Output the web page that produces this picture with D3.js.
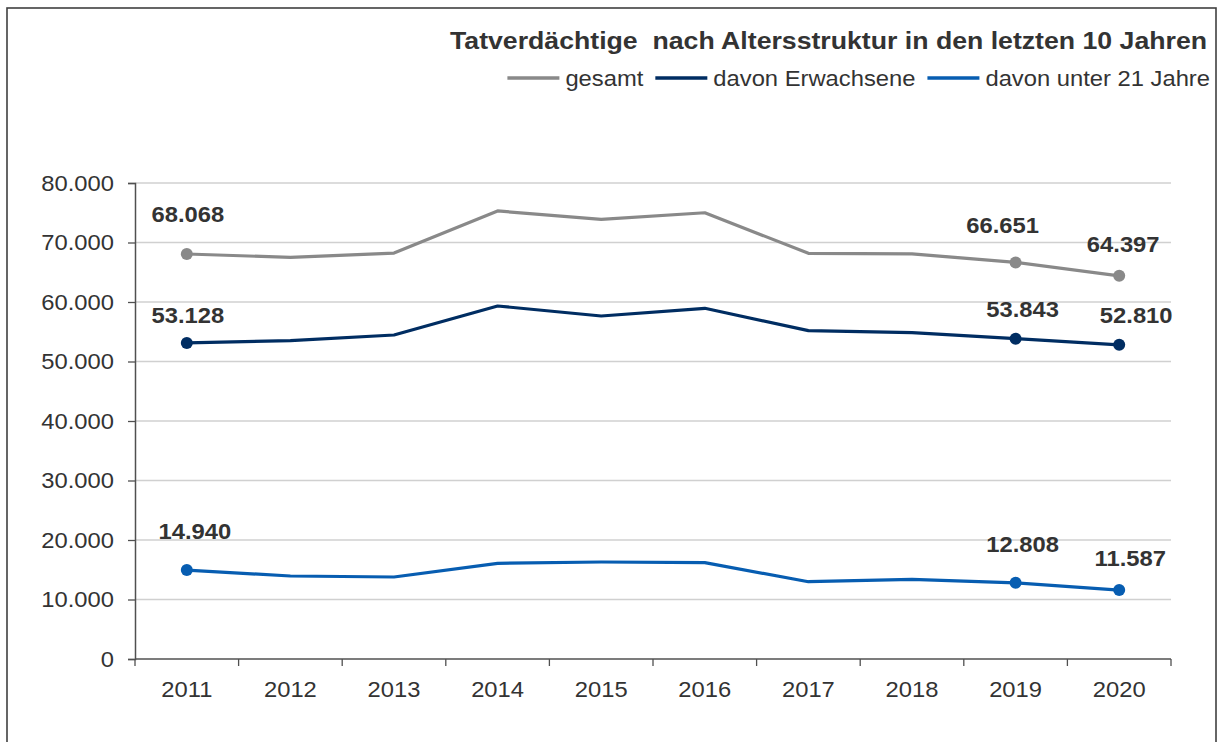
<!DOCTYPE html>
<html>
<head>
<meta charset="utf-8">
<script src="https://cdn.jsdelivr.net/npm/d3@7"></script>
<style>
  body { margin: 0; background: #fff; }
  svg text { font-family: "Liberation Sans", Arial, sans-serif; fill: #333; }
</style>
</head>
<body>
<div id="chart"></div>
<script>
// data
const years = ["2011", "2012", "2013", "2014", "2015", "2016", "2017", "2018", "2019", "2020"];
const gesamt = [68068, 67500, 68230, 75300, 73900, 75000, 68180, 68100, 66651, 64397];
const erwachsene = [53128, 53500, 54450, 59330, 57650, 58940, 55180, 54840, 53843, 52810];
const unter21 = [14940, 13950, 13780, 16080, 16300, 16190, 12990, 13390, 12808, 11587];
const yTicks = [0, 10000, 20000, 30000, 40000, 50000, 60000, 70000, 80000];
const labelledYears = ["2011", "2019", "2020"];
const seriesNames = ["gesamt", "davon Erwachsene", "davon unter 21 Jahre"];

const colors = ["#898989", "#002d62", "#075db1"];

// manual label offsets (dx, dy) from the point, like the excel chart
const labelOffsets = [
    {"2011": [1, -40], "2019": [-13, -37], "2020": [4, -32]},
    {"2011": [1, -28], "2019": [7, -29], "2020": [17, -29]},
    {"2011": [8, -39], "2019": [7, -38], "2020": [11, -32]}
];

const W = 1217, H = 742;
const margin = {left: 135, right: 46, top: 183, bottom: 83};

// the reference text is a bit wider than Liberation Sans
const STRETCH = 1.08;
function stretch(sel, f) {
    sel.each(function () {
        const w = this.getComputedTextLength();
        d3.select(this).attr("textLength", w * f).attr("lengthAdjust", "spacingAndGlyphs");
    });
}

const svg = d3.select("#chart").append("svg")
    .attr("width", W).attr("height", H);

// frame
svg.append("rect")
    .attr("x", 7).attr("y", 8)
    .attr("width", 1209).attr("height", 760)
    .attr("fill", "none")
    .attr("stroke", "#404040")
    .attr("stroke-width", 1.6);

const x = d3.scaleBand().domain(years)
    .range([margin.left, W - margin.right]);
const y = d3.scaleLinear().domain([0, 80000])
    .range([H - margin.bottom, margin.top]);

// gridlines
svg.append("g").selectAll("line")
    .data(yTicks.filter(d => d > 0))
    .enter().append("line")
    .attr("x1", margin.left).attr("x2", W - margin.right)
    .attr("y1", d => y(d)).attr("y2", d => y(d))
    .attr("stroke", "#d0d0d0").attr("stroke-width", 1.3);

const fmt = d3.formatLocale({decimal: ",", thousands: ".", grouping: [3], currency: ["", "€"]}).format(",d");

// y axis
const yAxis = svg.append("g")
    .attr("transform", `translate(${margin.left},0)`)
    .call(d3.axisLeft(y).tickValues(yTicks).tickFormat(fmt).tickSize(7).tickPadding(14));
yAxis.selectAll("text").attr("font-size", 22).attr("fill", "#333")
    .attr("font-family", "Liberation Sans, Arial, sans-serif");
stretch(yAxis.selectAll("text"), STRETCH);

// x axis with ticks between categories
const xAxisG = svg.append("g")
    .attr("transform", `translate(0,${y(0)})`);
xAxisG.append("line")
    .attr("x1", margin.left).attr("x2", W - margin.right)
    .attr("stroke", "#505050").attr("stroke-width", 1.5);
const bounds = years.map(d => x(d)).concat([x(years[years.length - 1]) + x.bandwidth()]);
xAxisG.selectAll(".xtick").data(bounds).enter().append("line")
    .attr("x1", d => d).attr("x2", d => d)
    .attr("y1", 0).attr("y2", 7)
    .attr("stroke", "#505050").attr("stroke-width", 1.3);
const xLabels = xAxisG.selectAll(".xlab").data(years).enter().append("text")
    .attr("x", d => x(d) + x.bandwidth() / 2)
    .attr("y", 38)
    .attr("text-anchor", "middle")
    .attr("font-size", 22)
    .text(d => d);
stretch(xLabels, STRETCH);

yAxis.select(".domain").attr("stroke", "#505050").attr("stroke-width", 1.5);
yAxis.selectAll(".tick line").attr("stroke", "#505050").attr("stroke-width", 1.3);

// lines
const allSeries = [gesamt, erwachsene, unter21];
const line = d3.line()
    .x((d, i) => x(years[i]) + x.bandwidth() / 2)
    .y(d => y(d));

allSeries.forEach((values, s) => {
    svg.append("path")
        .datum(values)
        .attr("fill", "none")
        .attr("stroke", colors[s])
        .attr("stroke-width", 3.2)
        .attr("stroke-linejoin", "round")
        .attr("d", line);

    const pts = years.map((yr, i) => ({yr, v: values[i]}))
        .filter(d => labelledYears.includes(d.yr));

    svg.append("g").selectAll("circle")
        .data(pts).enter().append("circle")
        .attr("cx", d => x(d.yr) + x.bandwidth() / 2)
        .attr("cy", d => y(d.v))
        .attr("r", 6)
        .attr("fill", colors[s]);

    const labels = svg.append("g").selectAll("text")
        .data(pts).enter().append("text")
        .attr("x", d => x(d.yr) + x.bandwidth() / 2 + labelOffsets[s][d.yr][0])
        .attr("y", d => y(d.v) + labelOffsets[s][d.yr][1])
        .attr("dy", "0.35em")
        .attr("text-anchor", "middle")
        .attr("font-size", 22)
        .attr("font-weight", "bold")
        .text(d => fmt(d.v));
    stretch(labels, STRETCH);
});

// title
svg.append("text")
    .attr("x", 1207).attr("y", 49)
    .attr("text-anchor", "end")
    .attr("font-size", 23.5)
    .attr("font-weight", "bold")
    .attr("textLength", 757)
    .attr("lengthAdjust", "spacingAndGlyphs")
    .style("white-space", "pre")
    .text("Tatverdächtige  nach Altersstruktur in den letzten 10 Jahren");

// legend, laid out right to left
const legend = svg.append("g");
let cursor = 1210;
for (let s = seriesNames.length - 1; s >= 0; s--) {
    const t = legend.append("text")
        .attr("x", cursor).attr("y", 78)
        .attr("dy", "0.35em")
        .attr("text-anchor", "end")
        .attr("font-size", 22)
        .text(seriesNames[s]);
    stretch(t, STRETCH);
    const w = +t.attr("textLength");
    const x1 = cursor - w - 58, x2 = cursor - w - 6;
    legend.append("line")
        .attr("x1", x1).attr("x2", x2)
        .attr("y1", 78).attr("y2", 78)
        .attr("stroke", colors[s]).attr("stroke-width", 3.5);
    cursor = x1 - 12;
}
</script>
</body>
</html>
